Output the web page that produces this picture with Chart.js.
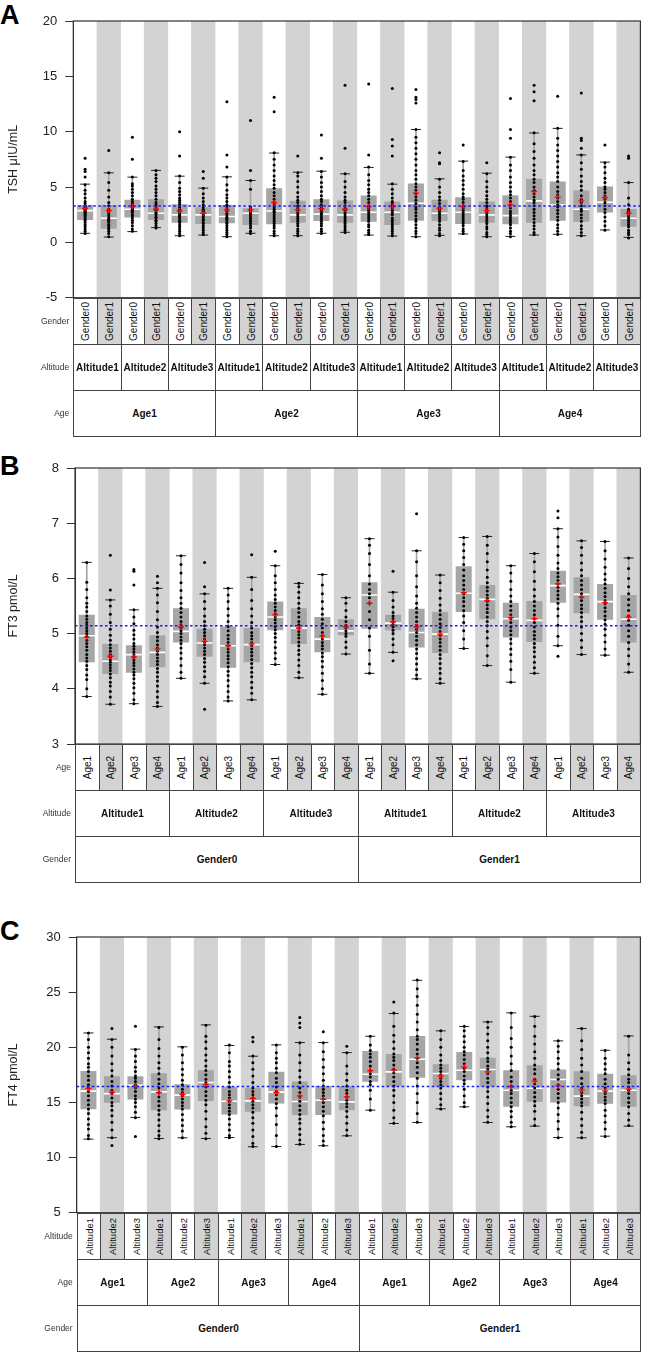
<!DOCTYPE html>
<html><head><meta charset="utf-8">
<script src="https://cdn.jsdelivr.net/npm/chart.js@4.4.1/dist/chart.umd.min.js"></script>
<style>
html,body{margin:0;padding:0;background:#fff;}
body{width:650px;height:1352px;position:relative;overflow:hidden;font-family:"Liberation Sans",Arial,Helvetica,sans-serif;}
canvas{position:absolute;left:0;}
.letter{position:absolute;left:0;font-weight:bold;font-size:27px;line-height:27px;color:#000;}
.cell{position:absolute;box-sizing:border-box;border:1px solid #444;display:flex;align-items:center;justify-content:center;color:#111;background:#fff;overflow:visible;}
.cell.grey{background:#d3d3d3;}
.rot{transform:rotate(-90deg);white-space:nowrap;font-size:10px;display:block;}
.bold{font-weight:bold;font-size:10px;white-space:nowrap;}
.rowlab{position:absolute;font-size:8.5px;color:#333;display:flex;align-items:center;justify-content:flex-end;white-space:nowrap;}
</style></head><body>
<div class="letter" style="top:1.5px">A</div>
<div class="letter" style="top:453px">B</div>
<div class="letter" style="top:918px">C</div>
<script>
// ---------------- Panel A : TSH ----------------
const tshAge = ['Age1','Age2','Age3','Age4'];
const tshAltitude = ['Altitude1','Altitude2','Altitude3'];
const tshGender = ['Gender0','Gender1'];
const tshTicks = [-5,0,5,10,15,20];
const tshRef = 3.28;
const tshQ1   = [2.02,1.24,2.24,2.02,1.78,1.66,1.72,1.57,1.63,1.78,1.93,1.78,1.87,1.57,1.96,1.93,1.66,1.78,1.63,1.78,1.96,1.87,2.69,1.42];
const tshQ3   = [3.38,3.38,3.84,3.90,3.44,3.17,3.38,3.08,4.89,3.75,3.90,3.78,4.23,3.69,5.32,3.84,4.08,3.69,4.26,5.74,5.50,4.68,5.05,3.02];
const tshMedian = [2.87,2.18,2.99,2.63,2.48,2.48,2.33,2.63,2.84,2.48,2.55,2.48,2.72,2.72,3.53,2.63,2.72,2.48,2.42,3.75,3.38,2.99,3.63,2.18];
const tshMean = [3.08,2.87,3.23,2.99,2.84,2.63,2.93,2.93,3.60,2.93,3.05,2.99,3.23,3.23,4.44,3.08,3.23,2.87,3.38,4.59,4.08,3.75,4.05,2.63];
const tshWhiskerLow  = [0.82,0.48,0.97,1.33,0.60,0.66,0.51,0.82,0.60,0.60,0.82,0.91,0.66,0.57,0.51,0.63,0.76,0.51,0.54,0.66,0.73,0.60,1.12,0.45];
const tshWhiskerHigh = [5.26,6.28,5.89,6.50,5.98,4.90,5.92,5.59,8.07,6.34,6.43,6.19,6.77,5.26,10.2,5.74,7.34,6.25,7.70,9.88,10.3,7.90,7.25,5.40];
const tshPoints = [
 "0.8 1.0 1.2 1.4 1.6 1.8 2.0 2.1 2.3 2.4 2.5 2.6 2.7 2.8 2.9 3.0 3.1 3.2 3.3 3.5 3.7 4.0 4.4 4.7 5.2 5.9 6.4 6.6 7.6",
 "0.5 0.8 1.0 1.2 1.3 1.5 1.6 1.8 1.9 2.0 2.1 2.2 2.4 2.6 2.8 3.0 3.3 3.6 4.1 4.7 5.4 6.3 8.3",
 "1.0 1.2 1.5 1.8 2.0 2.2 2.4 2.5 2.7 2.8 2.9 3.0 3.1 3.3 3.5 3.7 3.9 4.2 4.5 4.8 5.1 5.3 5.9 7.5 9.5",
 "1.3 1.5 1.7 1.9 2.0 2.2 2.3 2.5 2.6 2.7 2.9 3.0 3.2 3.4 3.6 3.9 4.2 4.5 4.8 5.1 5.5 5.8 6.1 6.5",
 "0.6 0.8 1.0 1.2 1.4 1.6 1.8 1.9 2.0 2.2 2.3 2.4 2.5 2.6 2.8 3.0 3.2 3.4 3.6 3.8 4.0 4.3 4.6 4.9 5.4 6.0 7.8 10.0",
 "0.7 0.9 1.1 1.3 1.5 1.7 1.8 2.0 2.1 2.3 2.4 2.5 2.6 2.8 2.9 3.0 3.2 3.4 3.7 4.0 4.4 4.9 5.8 6.4",
 "0.5 0.7 0.9 1.1 1.3 1.5 1.7 1.8 2.0 2.1 2.2 2.3 2.5 2.6 2.8 3.0 3.2 3.4 3.7 4.0 4.3 4.7 5.2 5.9 6.8 7.9 12.7",
 "0.8 1.0 1.3 1.5 1.7 1.9 2.1 2.3 2.5 2.6 2.7 2.9 3.0 3.2 4.8 5.6 6.5 11.0",
 "0.6 0.8 1.0 1.3 1.5 1.7 1.9 2.1 2.3 2.5 2.7 2.8 3.0 3.2 3.4 3.6 3.9 4.2 4.5 4.9 5.2 5.6 6.0 6.5 7.0 7.5 8.1 11.8 13.1",
 "0.6 0.8 1.0 1.2 1.5 1.7 1.9 2.1 2.3 2.5 2.7 2.9 3.1 3.3 3.6 3.8 4.1 4.5 5.0 5.5 6.0 6.3 7.8",
 "0.8 1.0 1.2 1.5 1.7 1.9 2.1 2.3 2.5 2.6 2.8 3.0 3.2 3.4 3.7 3.9 4.2 4.6 5.0 5.4 5.9 6.4 7.6 9.7",
 "0.9 1.1 1.3 1.5 1.7 1.9 2.1 2.3 2.5 2.7 2.9 3.1 3.3 3.6 3.8 4.1 4.5 5.0 5.5 6.2 8.5 14.2",
 "0.7 0.9 1.1 1.4 1.6 1.9 2.1 2.3 2.5 2.7 2.9 3.1 3.3 3.6 3.9 4.2 4.5 4.8 5.2 5.6 6.1 6.8 7.9 14.3",
 "0.6 0.8 1.0 1.2 1.4 1.6 1.8 2.0 2.2 2.5 2.7 2.9 3.1 3.3 3.5 3.7 4.0 4.4 4.8 5.3 7.8 8.7 9.3 13.9",
 "0.5 0.8 1.0 1.3 1.6 1.9 2.1 2.4 2.7 3.0 3.2 3.5 3.8 4.1 4.4 4.7 5.0 5.3 5.7 6.1 6.5 7.0 7.5 8.0 8.5 9.0 9.5 10.2 12.6 12.9 13.1 13.8",
 "0.6 0.8 1.1 1.3 1.6 1.9 2.1 2.3 2.5 2.6 2.8 3.0 3.2 3.5 3.8 4.1 4.5 5.0 5.7 7.1 7.2 8.1",
 "0.8 1.0 1.2 1.5 1.7 1.9 2.1 2.3 2.5 2.7 2.9 3.1 3.3 3.6 3.9 4.1 4.4 4.8 5.2 5.6 6.0 6.5 7.3 8.8",
 "0.5 0.7 0.9 1.2 1.4 1.7 1.9 2.1 2.3 2.5 2.7 2.9 3.1 3.3 3.6 3.9 4.2 4.6 5.0 5.5 6.2 7.2",
 "0.5 0.8 1.0 1.3 1.6 1.8 2.0 2.2 2.4 2.6 2.8 3.1 3.4 3.7 4.0 4.3 4.6 5.0 5.4 5.9 6.5 7.0 7.7 9.4 10.2 13.0",
 "0.7 0.9 1.2 1.5 1.8 2.1 2.4 2.7 3.0 3.3 3.6 3.8 4.1 4.4 4.7 5.0 5.4 5.7 6.1 6.5 7.0 7.6 8.2 8.9 9.9 12.8 13.6 14.2",
 "0.7 1.0 1.3 1.6 2.0 2.3 2.6 2.9 3.2 3.4 3.7 4.0 4.3 4.6 5.0 5.5 5.9 6.3 6.8 7.3 7.8 8.3 8.8 9.4 10.3 13.2",
 "0.6 0.9 1.2 1.5 1.9 2.2 2.5 2.8 3.0 3.3 3.6 3.9 4.2 4.7 5.1 5.5 6.0 6.6 7.2 7.9 8.5 9.2 9.4 13.5",
 "1.1 1.5 1.9 2.3 2.7 3.0 3.3 3.6 3.9 4.2 4.5 4.8 5.0 5.4 5.8 6.3 6.8 7.2 8.8",
 "0.4 0.7 0.9 1.1 1.4 1.6 1.8 2.0 2.2 2.4 2.6 2.8 3.0 3.4 4.0 5.4 7.6 7.8"
];

// ---------------- Panel B : FT3 ----------------
const ft3Gender = ['Gender0','Gender1'];
const ft3Altitude = ['Altitude1','Altitude2','Altitude3'];
const ft3Age = ['Age1','Age2','Age3','Age4'];
const ft3Ticks = [3,4,5,6,7,8];
const ft3Ref = 5.14;
const ft3Q1   = [4.48,4.27,4.29,4.39,4.84,4.58,4.38,4.48,5.06,4.81,4.66,4.97,5.09,5.06,4.75,4.65,5.39,5.26,4.93,4.85,5.56,5.37,5.25,4.84];
const ft3Q3   = [5.34,4.81,4.79,4.97,5.46,5.09,5.13,5.10,5.58,5.46,5.30,5.26,5.93,5.34,5.45,5.39,6.22,5.88,5.56,5.59,6.14,6.02,5.90,5.70];
const ft3Median = [4.96,4.50,4.62,4.66,5.04,4.83,4.78,4.80,5.30,5.10,4.90,5.05,5.70,5.19,5.02,4.99,5.73,5.62,5.27,5.24,5.87,5.71,5.58,5.26];
const ft3Mean = [4.93,4.59,4.58,4.72,5.12,4.86,4.78,4.81,5.34,5.10,4.96,5.12,5.55,5.21,5.12,4.99,5.74,5.60,5.29,5.27,5.90,5.66,5.56,5.30];
const ft3WhiskerLow  = [3.86,3.72,3.73,3.68,4.19,4.10,3.78,3.80,4.44,4.20,3.90,4.63,4.28,4.66,4.18,4.10,4.73,4.42,4.12,4.28,4.78,4.62,4.61,4.30];
const ft3WhiskerHigh = [6.29,5.61,5.43,5.82,6.41,5.72,5.82,6.02,6.23,5.91,6.07,5.65,6.72,5.75,6.50,6.06,6.74,6.76,6.23,6.45,6.90,6.68,6.67,6.37];
const ft3Points = [
 "3.86 4.0 4.17 4.25 4.35 4.42 4.5 4.56 4.62 4.7 4.76 4.82 4.88 4.95 5.0 5.05 5.1 5.15 5.2 5.26 5.32 5.4 5.48 5.55 5.65 5.8 5.93 6.29",
 "3.72 3.85 3.95 4.05 4.12 4.2 4.27 4.33 4.38 4.43 4.48 4.52 4.57 4.62 4.68 4.74 4.8 4.88 4.97 5.08 5.2 5.35 5.5 5.61 5.79 6.42",
 "3.73 3.8 3.92 4.02 4.1 4.18 4.25 4.3 4.36 4.42 4.47 4.52 4.57 4.62 4.67 4.72 4.77 4.82 4.9 4.98 5.06 5.18 5.3 5.43 5.88 6.13 6.16",
 "3.68 3.75 3.85 3.95 4.05 4.14 4.22 4.3 4.37 4.44 4.5 4.56 4.62 4.68 4.74 4.8 4.87 4.94 5.02 5.12 5.25 5.4 5.56 5.7 5.82 5.92 6.04",
 "4.19 4.3 4.42 4.55 4.65 4.74 4.82 4.88 4.94 5.0 5.05 5.1 5.16 5.22 5.3 5.38 5.46 5.55 5.65 5.78 5.92 6.1 6.25 6.41",
 "3.63 4.1 4.22 4.32 4.4 4.48 4.55 4.62 4.68 4.74 4.8 4.85 4.9 4.96 5.02 5.08 5.14 5.22 5.32 5.45 5.58 5.72 5.85 6.29",
 "3.78 3.85 3.95 4.05 4.15 4.24 4.32 4.4 4.47 4.54 4.6 4.66 4.72 4.78 4.84 4.9 4.97 5.05 5.13 5.22 5.33 5.45 5.58 5.7 5.82",
 "3.8 3.92 4.02 4.12 4.22 4.3 4.38 4.46 4.53 4.6 4.66 4.72 4.78 4.84 4.9 4.96 5.02 5.1 5.2 5.32 5.45 5.6 5.8 6.02 6.43",
 "4.44 4.55 4.65 4.75 4.85 4.93 5.0 5.07 5.13 5.19 5.25 5.3 5.36 5.42 5.48 5.55 5.62 5.7 5.8 5.92 6.05 6.23 6.49",
 "4.2 4.3 4.42 4.52 4.62 4.7 4.78 4.85 4.92 4.98 5.04 5.1 5.16 5.22 5.3 5.38 5.46 5.55 5.65 5.75 5.85 5.91",
 "3.9 4.0 4.15 4.28 4.4 4.5 4.58 4.65 4.72 4.78 4.84 4.9 4.96 5.02 5.1 5.18 5.26 5.35 5.45 5.58 5.72 5.88 6.07",
 "4.63 4.75 4.85 4.95 5.0 5.05 5.1 5.15 5.22 5.3 5.42 5.55 5.65",
 "4.28 4.45 4.7 4.95 5.1 5.25 5.4 5.55 5.65 5.72 5.8 5.9 6.05 6.25 6.45 6.6 6.72",
 "4.51 4.66 4.8 4.9 5.0 5.06 5.12 5.17 5.22 5.27 5.32 5.38 5.48 5.6 5.75 6.13",
 "4.18 4.25 4.35 4.45 4.55 4.64 4.72 4.8 4.88 4.95 5.02 5.08 5.15 5.22 5.3 5.38 5.46 5.55 5.68 5.85 6.05 6.3 6.5 7.17",
 "4.1 4.18 4.28 4.37 4.46 4.55 4.62 4.7 4.77 4.84 4.9 4.97 5.04 5.11 5.18 5.26 5.34 5.42 5.52 5.64 5.78 5.92 6.06",
 "4.73 4.9 5.05 5.2 5.32 5.42 5.5 5.58 5.65 5.72 5.8 5.88 5.96 6.05 6.15 6.25 6.38 6.5 6.62 6.74",
 "4.42 4.6 4.78 4.92 5.04 5.14 5.22 5.3 5.38 5.45 5.52 5.58 5.64 5.7 5.77 5.84 5.92 6.02 6.15 6.3 6.45 6.6 6.76",
 "4.12 4.35 4.5 4.62 4.72 4.82 4.9 4.98 5.05 5.12 5.2 5.27 5.34 5.42 5.5 5.58 5.68 5.8 5.95 6.1 6.23",
 "4.28 4.38 4.48 4.58 4.67 4.75 4.82 4.9 4.97 5.04 5.12 5.2 5.27 5.34 5.42 5.5 5.58 5.68 5.8 5.95 6.12 6.3 6.45",
 "4.59 4.78 4.95 5.15 5.32 5.45 5.55 5.63 5.7 5.77 5.84 5.9 5.96 6.03 6.1 6.18 6.28 6.42 6.58 6.75 6.9 7.1 7.22",
 "4.62 4.75 4.88 5.0 5.12 5.22 5.3 5.38 5.45 5.52 5.6 5.66 5.72 5.8 5.88 5.96 6.05 6.15 6.28 6.42 6.56 6.68",
 "4.61 4.72 4.85 4.97 5.08 5.17 5.25 5.32 5.4 5.47 5.54 5.6 5.67 5.74 5.82 5.9 5.98 6.08 6.2 6.35 6.5 6.67",
 "4.3 4.45 4.6 4.72 4.84 4.95 5.05 5.15 5.24 5.32 5.42 5.52 5.62 5.72 5.85 6.0 6.18 6.37"
];

// ---------------- Panel C : FT4 ----------------
const ft4Gender = ['Gender0','Gender1'];
const ft4Age = ['Age1','Age2','Age3','Age4'];
const ft4Altitude = ['Altitude1','Altitude2','Altitude3'];
const ft4Ticks = [5,10,15,20,25,30];
const ft4Ref = 16.44;
const ft4Q1   = [14.39,14.96,15.27,14.30,14.36,15.14,13.91,14.15,14.90,13.85,13.85,14.30,16.87,16.47,17.23,16.41,17.02,16.41,14.60,15.05,14.99,14.66,14.87,14.60];
const ft4Q3   = [17.86,17.38,17.38,17.65,16.65,17.92,16.41,16.32,17.77,16.90,16.50,16.50,19.67,19.40,21.03,18.47,19.58,19.04,17.92,18.38,17.98,17.83,17.59,17.47];
const ft4Median = [16.02,15.80,16.56,15.96,15.66,16.81,15.11,15.14,15.93,15.08,15.20,15.05,17.56,17.77,18.92,17.62,17.92,17.98,16.11,16.29,17.08,15.57,16.02,16.11];
const ft4Mean = [16.26,15.90,16.50,15.90,15.72,16.62,15.14,15.36,15.90,15.60,15.27,15.50,17.89,17.92,19.04,17.38,18.22,17.77,16.41,16.93,16.50,16.11,16.05,16.20];
const ft4WhiskerLow  = [11.67,11.80,13.64,11.73,11.79,11.73,11.82,10.98,11.00,11.19,11.07,11.97,14.30,13.09,13.18,14.42,14.60,13.18,12.79,12.85,11.82,11.79,11.94,12.85];
const ft4WhiskerHigh = [21.30,20.73,19.83,21.85,20.04,22.03,20.16,19.19,20.22,20.43,20.43,19.52,21.00,23.06,26.07,21.49,21.88,22.30,23.12,22.81,20.58,21.70,19.73,21.03];
const ft4Points = [
 "11.7 12.0 12.6 13.0 13.5 14.0 14.4 14.8 15.2 15.6 16.0 16.3 16.6 17.0 17.4 17.8 18.2 18.5 19.0 19.5 20.0 20.7 21.3",
 "11.1 11.8 12.5 13.2 13.8 14.3 14.7 15.0 15.4 15.8 16.1 16.5 16.9 17.4 17.9 18.5 19.2 20.0 20.7 21.7",
 "11.9 13.6 14.1 14.6 15.0 15.3 15.6 16.0 16.3 16.6 16.9 17.2 17.4 17.8 18.2 18.7 19.2 19.8 21.9",
 "11.7 12.0 12.4 12.9 13.4 13.9 14.3 14.7 15.1 15.5 15.9 16.3 16.7 17.1 17.6 18.1 18.6 19.2 19.9 20.7 21.8",
 "11.8 12.4 12.9 13.4 13.9 14.4 14.7 15.0 15.3 15.6 15.9 16.2 16.6 17.0 17.5 18.0 18.6 19.3 20.0",
 "11.7 12.2 12.8 13.5 14.2 14.8 15.2 15.6 16.0 16.4 16.8 17.1 17.5 17.9 18.3 18.8 19.3 19.9 20.5 21.0 22.0",
 "11.8 12.0 12.5 13.0 13.5 13.9 14.2 14.5 14.8 15.1 15.4 15.7 16.0 16.4 16.8 17.3 17.8 18.3 18.7 19.5 20.2",
 "11.0 11.3 11.9 12.5 13.1 13.6 14.1 14.5 14.8 15.1 15.4 15.7 16.0 16.3 16.8 17.4 18.0 18.6 19.2 20.5 20.9",
 "11.0 12.0 13.0 13.8 14.5 14.9 15.3 15.7 16.0 16.4 16.8 17.2 17.7 18.1 18.6 19.0 19.5 20.2",
 "11.2 11.6 12.1 12.6 13.1 13.5 13.9 14.3 14.7 15.1 15.5 15.9 16.3 16.8 17.3 17.9 18.6 19.3 20.4 21.8 22.2 22.7",
 "11.1 11.5 12.0 12.6 13.2 13.8 14.2 14.6 15.0 15.3 15.6 15.9 16.2 16.5 17.0 17.6 18.2 18.9 19.6 20.4 21.4",
 "12.0 12.5 13.1 13.7 14.2 14.6 14.9 15.2 15.5 15.8 16.1 16.5 17.0 17.6 18.3 19.5 20.1",
 "14.3 15.3 16.1 16.6 16.9 17.3 17.6 17.9 18.3 18.7 19.1 19.4 19.7 20.2 21.0",
 "13.1 13.6 14.3 15.0 15.6 16.1 16.5 16.9 17.3 17.7 18.0 18.4 18.8 19.1 19.4 19.9 20.5 21.1 21.9 23.1 24.1",
 "13.2 14.0 15.0 15.8 16.5 17.2 17.7 18.2 18.6 19.0 19.4 19.8 20.3 20.7 21.0 21.6 22.3 23.0 23.8 24.6 25.3 26.1",
 "14.4 14.8 15.3 15.8 16.3 16.6 16.9 17.2 17.5 17.8 18.1 18.4 18.8 19.3 20.0 20.7 21.5",
 "14.6 15.0 15.6 16.2 16.7 17.0 17.4 17.8 18.1 18.5 18.9 19.3 19.6 20.0 20.5 21.0 21.5 21.9",
 "13.2 13.7 14.3 14.9 15.5 16.0 16.4 16.8 17.2 17.6 18.0 18.3 18.7 19.0 19.5 20.0 20.6 21.2 21.8 22.3",
 "12.8 13.2 13.7 14.2 14.6 15.0 15.4 15.8 16.1 16.5 16.9 17.3 17.9 18.5 19.2 20.0 20.8 21.8 23.1",
 "12.9 13.5 14.2 14.7 15.1 15.5 15.9 16.3 16.7 17.1 17.6 18.0 18.4 19.0 19.6 20.3 21.0 21.9 22.8",
 "11.8 12.6 13.3 13.9 14.5 15.0 15.4 15.8 16.2 16.6 17.1 17.5 18.0 18.5 19.0 19.6 20.1 20.6",
 "11.8 12.3 12.9 13.5 14.1 14.7 15.0 15.3 15.6 15.9 16.3 16.7 17.2 17.8 18.4 19.0 19.8 20.6 21.7",
 "11.9 12.6 13.2 13.8 14.3 14.9 15.2 15.5 15.8 16.0 16.3 16.7 17.1 17.6 18.0 18.5 19.0 19.7",
 "12.9 13.4 14.0 14.6 15.0 15.4 15.8 16.1 16.4 16.8 17.1 17.5 18.0 18.6 19.3 21.0"
];

// ---------------- helpers ----------------
const FONT = '"Liberation Sans", Arial, Helvetica, sans-serif';
Chart.defaults.font.family = FONT;

function nest(outer, mid, inner) {
  const cats = [], l1 = [], l2 = [], l3 = [];
  outer.forEach(o => {
    l3.push(o);
    mid.forEach(m => {
      l2.push(m);
      inner.forEach(i => { l1.push(i); cats.push(o + '|' + m + '|' + i); });
    });
  });
  return {cats, l1, l2, l3};
}

const refLinePlugin = {
  id: 'refLine',
  afterDatasetsDraw(chart, args, opts) {
    const {ctx, chartArea: a, scales: {y}} = chart;
    const py = y.getPixelForValue(opts.value);
    ctx.save();
    ctx.strokeStyle = '#1a1aff'; ctx.lineWidth = 1.5; ctx.setLineDash([2.5, 2.5]);
    ctx.beginPath(); ctx.moveTo(a.left, py); ctx.lineTo(a.right, py); ctx.stroke();
    ctx.setLineDash([]);
    ctx.strokeStyle = '#333'; ctx.lineWidth = 1.2;
    ctx.strokeRect(a.left, a.top, a.right - a.left, a.bottom - a.top);
    ctx.restore();
  }
};

function makePanel(p) {
  const cv = document.createElement('canvas');
  cv.width = 650; cv.height = p.canvasH;
  cv.style.top = p.canvasTop + 'px';
  cv.style.width = '650px'; cv.style.height = p.canvasH + 'px';
  document.body.appendChild(cv);
  const g = nest(p.outer, p.mid, p.inner);
  const cats = g.cats;
  const stripes = cats.map((c, i) => i % 2 ? [p.ticks[0], p.ticks[p.ticks.length - 1]] : null);
  const pts = [];
  p.points.forEach((s, i) => s.trim().split(/\s+/).forEach(v => pts.push({x: cats[i], y: +v})));
  const caps = [];
  cats.forEach((c, i) => { caps.push({x: c, y: p.wLo[i]}); caps.push({x: c, y: p.wHi[i]}); });
  const chart = new Chart(cv, {
    type: 'bar',
    data: {
      labels: cats,
      datasets: [
        {type: 'bar', data: stripes, backgroundColor: '#d3d3d3', barPercentage: 1, categoryPercentage: 1, grouped: false, order: 10},
        {type: 'bar', data: cats.map((c, i) => [p.wLo[i], p.wHi[i]]), backgroundColor: '#a3a3a3', barThickness: 1, grouped: false, order: 9},
        {type: 'bar', data: cats.map((c, i) => [p.q1[i], p.q3[i]]), backgroundColor: '#a6a6a6', barPercentage: 0.68, categoryPercentage: 1, grouped: false, order: 8},
        {type: 'line', data: caps, showLine: false, pointStyle: 'line', pointRadius: 5, pointBorderColor: '#222', pointBorderWidth: 1, order: 7},
        {type: 'line', data: p.median, showLine: false, pointStyle: 'line', pointRadius: 8, pointBorderColor: '#ffffff', pointBorderWidth: 1.6, order: 6},
        {type: 'line', data: pts, showLine: false, pointStyle: 'circle', pointRadius: 1.5, pointBackgroundColor: '#000', pointBorderWidth: 0, order: 5},
        {type: 'line', data: p.mean, showLine: false, pointStyle: 'cross', pointRadius: 3, pointBorderColor: '#ff0000', pointBorderWidth: 1.3, order: 4}
      ]
    },
    options: {
      responsive: false, animation: false, events: [],
      layout: {padding: {top: p.padTop, right: p.padRight, bottom: p.padBottom, left: 0}},
      plugins: {legend: {display: false}, tooltip: {enabled: false}, refLine: {value: p.ref}},
      scales: {
        x: {display: false, offset: true},
        y: {
          min: p.ticks[0], max: p.ticks[p.ticks.length - 1],
          afterBuildTicks: s => { s.ticks = p.ticks.map(v => ({value: v})); },
          afterFit: s => { s.width = p.axisLeft; },
          ticks: {font: {size: 13}, color: '#222', padding: 8},
          grid: {drawOnChartArea: false, drawTicks: true, tickLength: 8, color: '#333'},
          border: {display: true, color: '#333'},
          title: {display: true, text: p.title, font: {size: 12.5}, color: '#222', padding: {top: 6.5, bottom: 0}}
        }
      }
    },
    plugins: [refLinePlugin]
  });

  // variable table below the plot (page coordinates = canvas top + chart area)
  const a = chart.chartArea;
  const n = cats.length;
  const colW = (a.right - a.left) / n;
  const rows = [
    {name: p.rowNames[0], labels: g.l1, span: 1, rot: true},
    {name: p.rowNames[1], labels: g.l2, span: n / g.l2.length, rot: false},
    {name: p.rowNames[2], labels: g.l3, span: n / g.l3.length, rot: false}
  ];
  let y0 = p.canvasTop + a.bottom;
  rows.forEach(r => {
    const h = 46;
    r.labels.forEach((lab, j) => {
      const x0 = Math.round(a.left + j * r.span * colW);
      const x1 = Math.round(a.left + (j + 1) * r.span * colW);
      const d = document.createElement('div');
      d.className = 'cell' + (r.rot && j % 2 ? ' grey' : '');
      d.style.left = x0 + 'px'; d.style.top = Math.round(y0) + 'px';
      d.style.width = (x1 - x0 + 1) + 'px'; d.style.height = (h + 1) + 'px';
      const s = document.createElement('span');
      s.className = r.rot ? 'rot' : 'bold';
      if (r.rot && p.rotSize) s.style.fontSize = p.rotSize + 'px';
      s.textContent = lab;
      d.appendChild(s);
      document.body.appendChild(d);
    });
    const rl = document.createElement('div');
    rl.className = 'rowlab';
    rl.style.left = '0px'; rl.style.width = (a.left - 4) + 'px';
    rl.style.top = Math.round(y0) + 'px'; rl.style.height = h + 'px';
    rl.textContent = r.name;
    document.body.appendChild(rl);
    y0 += h;
  });
  return chart;
}

makePanel({
  canvasTop: 0, canvasH: 318, padTop: 21, padBottom: 20.3, padRight: 4.5, axisLeft: 73.3,
  outer: tshAge, mid: tshAltitude, inner: tshGender, rowNames: ['Gender', 'Altitude', 'Age'],
  ticks: tshTicks, ref: tshRef, title: 'TSH μIU/mL',
  q1: tshQ1, q3: tshQ3, median: tshMedian, mean: tshMean, wLo: tshWhiskerLow, wHi: tshWhiskerHigh, points: tshPoints
});
makePanel({
  canvasTop: 440, canvasH: 324, padTop: 28, padBottom: 20, padRight: 3, axisLeft: 75,
  outer: ft3Gender, mid: ft3Altitude, inner: ft3Age, rowNames: ['Age', 'Altitude', 'Gender'],
  ticks: ft3Ticks, ref: ft3Ref, title: 'FT3 pmol/L',
  q1: ft3Q1, q3: ft3Q3, median: ft3Median, mean: ft3Mean, wLo: ft3WhiskerLow, wHi: ft3WhiskerHigh, points: ft3Points
});
makePanel({
  canvasTop: 905, canvasH: 328, padTop: 32, padBottom: 20.3, padRight: 2, axisLeft: 76.7, rotSize: 9.5,
  outer: ft4Gender, mid: ft4Age, inner: ft4Altitude, rowNames: ['Altitude', 'Age', 'Gender'],
  ticks: ft4Ticks, ref: ft4Ref, title: 'FT4 pmol/L',
  q1: ft4Q1, q3: ft4Q3, median: ft4Median, mean: ft4Mean, wLo: ft4WhiskerLow, wHi: ft4WhiskerHigh, points: ft4Points
});
</script>
</body></html>
